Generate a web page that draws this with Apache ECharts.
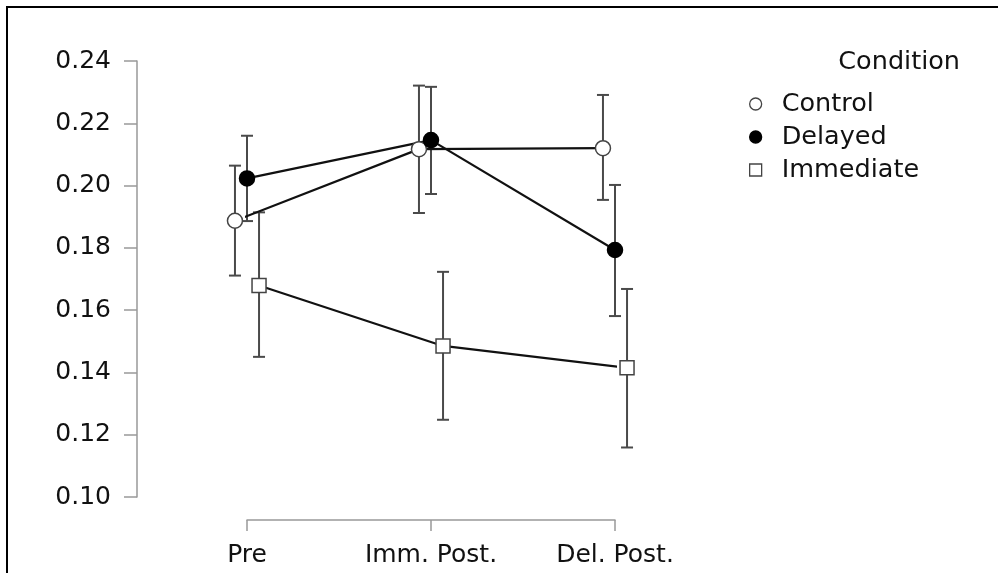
<!DOCTYPE html>
<html>
<head>
<meta charset="utf-8">
<script src="https://cdn.jsdelivr.net/npm/echarts@6/dist/echarts.min.js"></script>
<style>html,body{margin:0;padding:0;background:#fff}#chart{width:998px;height:573px}</style>
</head>
<body>
<div id="chart"></div>
<script>
// ---- data ----
const categories = ['Pre', 'Imm. Post.', 'Del. Post.'];
const yTicks = [0.10, 0.12, 0.14, 0.16, 0.18, 0.20, 0.22, 0.24];
const conditions = ['Control', 'Delayed', 'Immediate'];

const controlMean = [0.1887, 0.2117, 0.2120];
const controlLow  = [0.1711, 0.1912, 0.1954];
const controlHigh = [0.2064, 0.2321, 0.2291];

const delayedMean = [0.2023, 0.2146, 0.1793];
const delayedLow  = [0.1886, 0.1973, 0.1581];
const delayedHigh = [0.2160, 0.2317, 0.2002];

const immediateMean = [0.1679, 0.1485, 0.1415];
const immediateLow  = [0.1450, 0.1248, 0.1159];
const immediateHigh = [0.1914, 0.1723, 0.1668];

// ---- layout / style ----
const FONT = 'DejaVu Sans';
const DODGE = 0.0654; // horizontal dodge (category units)
const dodges = [-DODGE, 0, DODGE];
const means = [controlMean, delayedMean, immediateMean];
const lows = [controlLow, delayedLow, immediateLow];
const highs = [controlHigh, delayedHigh, immediateHigh];
const symbols = ['circle', 'circle', 'rect'];
const legendIcons = ['circle', 'circle', 'path://M0,0L10,0L10,10L0,10Z'];
const symbolSizes = [15, 15, 14];
const fills = ['#ffffff', '#000000', '#ffffff'];
const borders = ['#444444', '#000000', '#444444'];

const chart = echarts.init(document.getElementById('chart'));

const series = [];
conditions.forEach((name, k) => {
  series.push({
    name: name + ' error',
    type: 'custom',
    z: 1,
    silent: true,
    clip: false,
    encode: { x: 0, y: [1, 2] },
    data: categories.map((c, i) => [i + dodges[k], lows[k][i], highs[k][i]]),
    renderItem: function (params, api) {
      const x = api.value(0);
      const top = api.coord([x, api.value(2)]);
      const bot = api.coord([x, api.value(1)]);
      const hw = 6;
      const st = { stroke: '#4a4a4a', lineWidth: 2 };
      return {
        type: 'group',
        children: [
          { type: 'line', shape: { x1: top[0], y1: top[1], x2: bot[0], y2: bot[1] }, style: st },
          { type: 'line', shape: { x1: top[0] - hw, y1: top[1], x2: top[0] + hw, y2: top[1] }, style: st },
          { type: 'line', shape: { x1: bot[0] - hw, y1: bot[1], x2: bot[0] + hw, y2: bot[1] }, style: st }
        ]
      };
    }
  });
});
conditions.forEach((name, k) => {
  series.push({
    name: name,
    type: 'line',
    z: 3,
    clip: false,
    symbol: symbols[k],
    symbolSize: symbolSizes[k],
    showAllSymbol: true,
    lineStyle: { color: '#111', width: 2.2 },
    itemStyle: { color: fills[k], borderColor: borders[k], borderWidth: 1.5 },
    emphasis: { disabled: true },
    data: categories.map((c, i) => [i + dodges[k], means[k][i]])
  });
});

const option = {
  animation: false,
  backgroundColor: '#fff',
  textStyle: { fontFamily: FONT },
  title: {
    text: 'Condition',
    right: 33,
    top: 44,
    textStyle: { fontFamily: FONT, fontSize: 25.5, fontWeight: 'normal', color: '#111' }
  },
  legend: {
    orient: 'vertical',
    left: 744,
    top: 86,
    itemWidth: 42,
    itemHeight: 12,
    itemGap: 7,
    symbolKeepAspect: true,
    selectedMode: false,
    textStyle: { fontFamily: FONT, fontSize: 25.5, color: '#111', lineHeight: 26 },
    data: conditions.map((n, k) => ({
      name: n,
      icon: legendIcons[k],
      itemStyle: { color: fills[k], borderColor: borders[k], borderWidth: 1.3 }
    }))
  },
  grid: { left: 247, right: 383, top: 61, bottom: 76, containLabel: false },
  xAxis: {
    type: 'value',
    min: 0,
    max: categories.length - 1,
    interval: 1,
    offset: 23,
    axisLine: { show: true, onZero: false, lineStyle: { color: '#999', width: 1.5 } },
    axisTick: { show: true, length: 11, lineStyle: { color: '#999', width: 1.5 } },
    splitLine: { show: false },
    axisLabel: {
      margin: 23,
      fontFamily: FONT,
      fontSize: 25,
      color: '#111',
      formatter: v => categories[Math.round(v)] || ''
    }
  },
  yAxis: {
    type: 'value',
    min: yTicks[0],
    max: yTicks[yTicks.length - 1],
    interval: 0.02,
    offset: 110,
    axisLine: { show: true, onZero: false, lineStyle: { color: '#999', width: 1.5 } },
    axisTick: { show: true, length: 13, lineStyle: { color: '#999', width: 1.5 } },
    splitLine: { show: false },
    axisLabel: {
      margin: 26,
      fontFamily: FONT,
      fontSize: 25,
      color: '#111',
      formatter: v => v.toFixed(2)
    }
  },
  graphic: [{
    type: 'rect',
    silent: true,
    z: 100,
    shape: { x: 7, y: 7, width: 1200, height: 800 },
    style: { fill: 'none', stroke: '#000', lineWidth: 2 }
  }],
  series: series
};
chart.setOption(option);
</script>
</body>
</html>
